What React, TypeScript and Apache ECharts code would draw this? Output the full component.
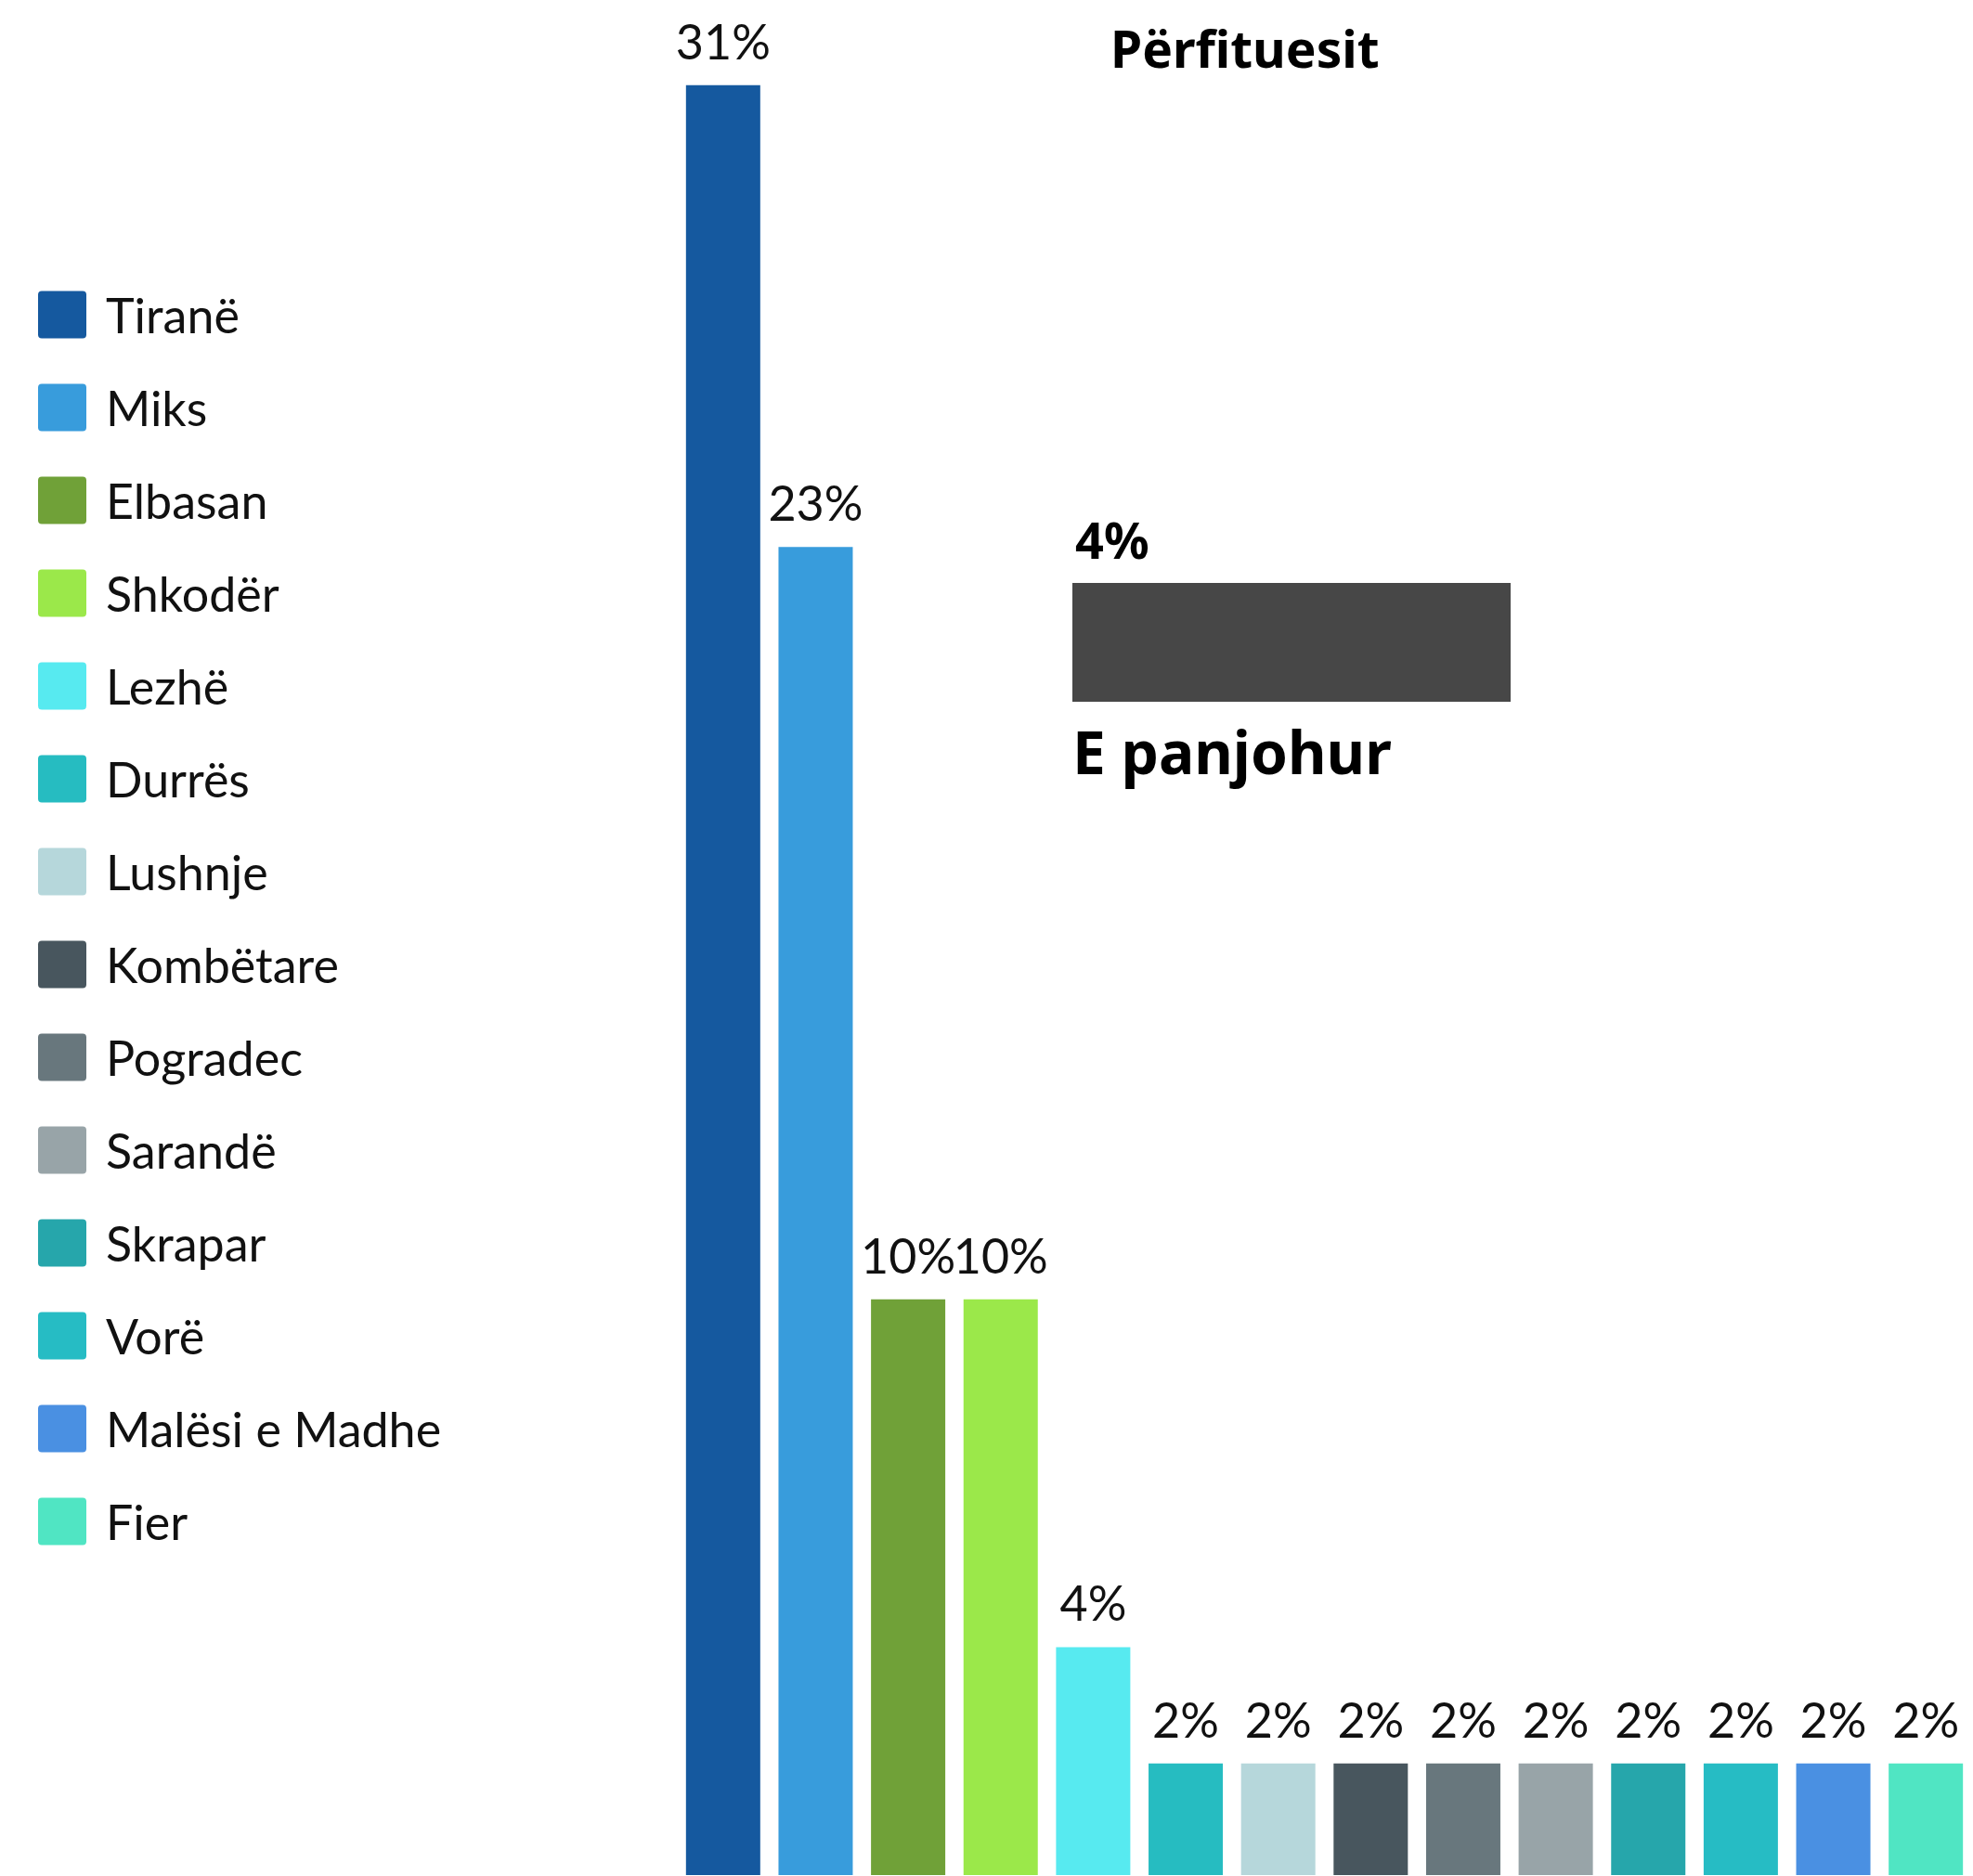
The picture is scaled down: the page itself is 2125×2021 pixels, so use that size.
import React, { useEffect, useRef } from "react";
import * as echarts from "echarts";

const titleText = "Përfituesit";
const categories = [
  "Tiranë", "Miks", "Elbasan", "Shkodër", "Lezhë", "Durrës", "Lushnje",
  "Kombëtare", "Pogradec", "Sarandë", "Skrapar", "Vorë", "Malësi e Madhe", "Fier",
];
const values = [31.4, 23.3, 10.1, 10.1, 4.0, 1.96, 1.96, 1.96, 1.96, 1.96, 1.96, 1.96, 1.96, 1.96];
const colors = [
  "#15599F", "#389CDC", "#70A138", "#9BE84A", "#57EAF0", "#26BCC1", "#B6D7DB",
  "#48565E", "#68777D", "#98A4A8", "#26A6AB", "#26BCC4", "#4A90E2", "#50E5C3",
];
const unknownCategory = ["E panjohur"];
const unknownValues = [4];
const unknownColor = "#474747";

const swatchIcon =
  "path://M4,0H48A4,4 0 0 1 52,4V47A4,4 0 0 1 48,51H4A4,4 0 0 1 0,47V4A4,4 0 0 1 4,0Z";

export default function App() {
  const ref = useRef<HTMLDivElement>(null);
  useEffect(() => {
    if (!ref.current) return;
    const chart = echarts.init(ref.current, null, { renderer: "svg" });
    const barSeries = categories.map((name, i) => ({
      type: "bar",
      name,
      stack: "all",
      xAxisIndex: 0,
      yAxisIndex: 0,
      barWidth: 80,
      data: values.map((v, j) => (j === i ? v : "-")),
      itemStyle: { color: colors[i] },
      label: {
        show: true,
        position: "top",
        distance: 22,
        formatter: (p: any) => Math.round(p.value) + "%",
        fontSize: 52,
        fontFamily: "Lato",
        color: "#111",
      },
    }));
    chart.setOption({
      animation: false,
      backgroundColor: "#fff",
      title: {
        text: titleText,
        left: 1196,
        top: 24,
        padding: 0,
        textStyle: { fontFamily: "Noto Sans", fontWeight: "bold", fontSize: 55, lineHeight: 55, color: "#000" },
      },
      legend: {
        orient: "vertical",
        left: 41,
        top: 313,
        padding: 0,
        itemWidth: 52,
        itemHeight: 51,
        itemGap: 48,
        icon: swatchIcon,
        data: categories,
        textStyle: { fontFamily: "Lato", fontSize: 52, lineHeight: 51, color: "#111", padding: [0, 0, 0, 16] },
      },
      grid: [
        { left: 729, right: 1, top: 55, bottom: 1 },
        { left: 1155, top: 628, width: 472, height: 128 },
      ],
      xAxis: [
        { type: "category", gridIndex: 0, data: categories, show: false },
        { type: "value", gridIndex: 1, min: 0, max: 4, show: false },
      ],
      yAxis: [
        { type: "value", gridIndex: 0, min: 0, max: 32, show: false },
        { type: "category", gridIndex: 1, data: unknownCategory, show: false },
      ],
      series: [
        ...barSeries,
        {
          type: "bar",
          name: unknownCategory[0],
          xAxisIndex: 1,
          yAxisIndex: 1,
          barWidth: 128,
          data: unknownValues,
          itemStyle: { color: unknownColor },
          label: {
            show: true,
            position: [3, -20],
            align: "left",
            verticalAlign: "bottom",
            formatter: (p: any) => Math.round(p.value) + "%",
            fontFamily: "Noto Sans",
            fontWeight: "bold",
            fontSize: 54,
            color: "#000",
          },
        },
      ],
      graphic: [
        {
          type: "text",
          left: 1155,
          top: 777,
          style: {
            text: unknownCategory[0],
            fontFamily: "Noto Sans",
            fontWeight: "bold",
            fontSize: 64,
            fill: "#000",
          },
        },
      ],
    });
    return () => chart.dispose();
  }, []);
  return (
    <div
      ref={ref}
      style={{ position: "fixed", left: 0, top: 0, width: 2125, height: 2021 }}
    />
  );
}
